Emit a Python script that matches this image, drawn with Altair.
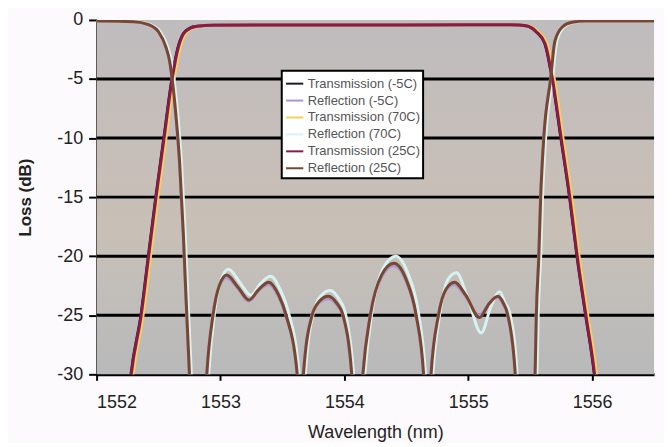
import altair as alt
import pandas as pd

# ---- data ----
series_names = ["Transmission (-5C)", "Reflection (-5C)", "Transmission (70C)",
                "Reflection (70C)", "Transmission (25C)", "Reflection (25C)"]
series_colors = ["#1c1a2a", "#a898d0", "#f0d35a", "#d8f2f2", "#8c1a48", "#7a4630"]

t25_w = [1552.26, 1552.28, 1552.36, 1552.42, 1552.48, 1552.545, 1552.61, 1552.66, 1552.72, 1552.80,
         1552.95, 1553.50, 1554.50, 1555.35, 1555.47, 1555.55, 1555.62, 1555.68, 1555.75, 1555.82,
         1555.88, 1555.95, 1556.02, 1556.04]
t25_v = [-32, -30, -25, -20, -15, -10, -5, -2.3, -0.95, -0.55,
         -0.45, -0.42, -0.42, -0.40, -0.50, -1.0, -2.0, -5, -10, -15,
         -20, -25, -30, -32]

t70_w = [1552.275, 1552.295, 1552.375, 1552.435, 1552.495, 1552.56, 1552.625, 1552.675, 1552.735, 1552.815,
         1552.965, 1553.50, 1554.50, 1555.365, 1555.485, 1555.565, 1555.635, 1555.695, 1555.765, 1555.835,
         1555.895, 1555.965, 1556.035, 1556.055]
t70_v = [-32, -30, -25, -20, -15, -10, -5, -2.3, -0.95, -0.55,
         -0.45, -0.42, -0.42, -0.40, -0.50, -1.0, -2.0, -5, -10, -15,
         -20, -25, -30, -32]

tm5_w = [1552.258, 1552.278, 1552.358, 1552.418, 1552.478, 1552.543, 1552.608, 1552.658, 1552.718, 1552.798,
         1552.948, 1553.50, 1554.50, 1555.348, 1555.468, 1555.548, 1555.618, 1555.678, 1555.748, 1555.818,
         1555.878, 1555.948, 1556.018, 1556.038]
tm5_v = [-32, -30, -25, -20, -15, -10, -5, -2.3, -0.95, -0.55,
         -0.45, -0.42, -0.42, -0.40, -0.50, -1.0, -2.0, -5, -10, -15,
         -20, -25, -30, -32]

r25_w = [1552.00, 1552.30, 1552.42, 1552.50, 1552.56, 1552.59, 1552.61, 1552.64, 1552.67, 1552.70, 1552.72, 1552.75, 1552.77,
         1552.87, 1552.89, 1552.94, 1552.99, 1553.05, 1553.14, 1553.23, 1553.31, 1553.39, 1553.47, 1553.53, 1553.62, 1553.645,
         1553.67, 1553.74, 1553.80, 1553.87, 1553.94, 1553.99, 1554.06, 1554.105,
         1554.15, 1554.21, 1554.30, 1554.40, 1554.50, 1554.58, 1554.64, 1554.67,
         1554.70, 1554.76, 1554.82, 1554.89, 1554.98, 1555.09, 1555.17, 1555.24, 1555.28, 1555.32, 1555.38, 1555.40,
         1555.52, 1555.54, 1555.55, 1555.57, 1555.585, 1555.61, 1555.665, 1555.70, 1555.76, 1555.84, 1555.95, 1556.50]
r25_v = [-0.1, -0.15, -0.4, -1.0, -2.3, -3.5, -5, -8, -12, -18, -23, -30, -34,
         -34, -30, -25, -22.5, -21.6, -22.6, -23.7, -22.8, -22.2, -23.3, -25, -30, -36,
         -30, -25, -23.8, -23.4, -24.0, -25, -30, -38,
         -30, -25, -21.6, -20.6, -22.0, -25, -30, -36,
         -30, -25, -22.8, -22.2, -23.3, -25.2, -24.0, -23.4, -23.9, -25, -30, -34,
         -34, -30, -25, -20, -15, -10, -5, -1.8, -0.6, -0.2, -0.1, -0.1]

r70_w = [1552.00, 1552.315, 1552.435, 1552.515, 1552.575, 1552.605, 1552.625, 1552.655, 1552.685, 1552.715, 1552.735, 1552.765, 1552.785,
         1552.885, 1552.905, 1552.955, 1553.005, 1553.065, 1553.155, 1553.245, 1553.325, 1553.405, 1553.485, 1553.545, 1553.635, 1553.66,
         1553.685, 1553.755, 1553.815, 1553.885, 1553.955, 1554.005, 1554.075, 1554.12,
         1554.165, 1554.225, 1554.315, 1554.415, 1554.515, 1554.595, 1554.655, 1554.685,
         1554.715, 1554.775, 1554.835, 1554.905, 1554.995, 1555.105, 1555.185, 1555.255, 1555.295, 1555.335, 1555.395, 1555.415,
         1555.535, 1555.555, 1555.565, 1555.585, 1555.60, 1555.625, 1555.68, 1555.715, 1555.775, 1555.855, 1555.965, 1556.50]
r70_v = [-0.1, -0.15, -0.4, -1.0, -2.3, -3.5, -5, -8, -12, -18, -23, -30, -34,
         -34, -30, -24.6, -22.0, -21.1, -22.2, -23.3, -22.3, -21.7, -22.9, -24.6, -30, -36,
         -30, -24.6, -23.3, -22.9, -23.6, -24.7, -30, -38,
         -30, -24.6, -21.0, -20.0, -21.5, -24.6, -30, -36,
         -30, -24.6, -22.0, -21.4, -23.5, -26.5, -24.2, -23.0, -23.9, -24.8, -30, -34,
         -34, -30, -25, -20, -15, -10, -5, -1.8, -0.6, -0.2, -0.1, -0.1]

rm5_w = [1552.00, 1552.298, 1552.418, 1552.498, 1552.558, 1552.588, 1552.608, 1552.638, 1552.668, 1552.698, 1552.718, 1552.748, 1552.768,
         1552.868, 1552.888, 1552.938, 1552.988, 1553.048, 1553.138, 1553.228, 1553.308, 1553.388, 1553.468, 1553.528, 1553.618, 1553.643,
         1553.668, 1553.738, 1553.798, 1553.868, 1553.938, 1553.988, 1554.058, 1554.103,
         1554.148, 1554.208, 1554.298, 1554.398, 1554.498, 1554.578, 1554.638, 1554.668,
         1554.698, 1554.758, 1554.818, 1554.888, 1554.978, 1555.088, 1555.168, 1555.238, 1555.278, 1555.318, 1555.378, 1555.398,
         1555.518, 1555.538, 1555.548, 1555.568, 1555.583, 1555.608, 1555.663, 1555.698, 1555.758, 1555.838, 1555.948, 1556.50]
rm5_v = [-0.1, -0.15, -0.4, -1.0, -2.3, -3.5, -5, -8, -12, -18, -23, -30, -34,
         -34, -30, -25, -22.6, -21.8, -22.7, -23.8, -22.9, -22.4, -23.4, -25, -30, -36,
         -30, -25, -23.9, -23.6, -24.1, -25, -30, -38,
         -30, -25, -21.8, -20.8, -22.1, -25, -30, -36,
         -30, -25, -22.9, -22.4, -23.4, -25.0, -24.0, -23.5, -24.0, -25, -30, -34,
         -34, -30, -25, -20, -15, -10, -5, -1.8, -0.6, -0.2, -0.1, -0.1]

grid_values = [-5, -10, -15, -20, -25]
x_ticks = [1552, 1553, 1554, 1555, 1556]
y_ticks = [-30, -25, -20, -15, -10, -5, 0]
x_domain = [1552, 1556.5]
y_domain = [-30, 0]

# ---- build table ----
series_data = [
    (series_names[0], tm5_w, tm5_v),
    (series_names[1], rm5_w, rm5_v),
    (series_names[2], t70_w, t70_v),
    (series_names[3], r70_w, r70_v),
    (series_names[4], t25_w, t25_v),
    (series_names[5], r25_w, r25_v),
]
rows = []
for name, ws, vs in series_data:
    for w, v in zip(ws, vs):
        rows.append({"series": name, "w": w, "v": v})
df = pd.DataFrame(rows)

FONT = "Liberation Sans"

xscale = alt.Scale(domain=x_domain, nice=False, zero=False)
yscale = alt.Scale(domain=y_domain, nice=False, zero=False)

x_axis = alt.Axis(values=x_ticks, format="d", title="Wavelength (nm)", grid=False,
                  domainColor="black", domainWidth=3, tickColor="black", tickWidth=2,
                  tickSize=6, labelFontSize=18, labelPadding=13, labelColor="#222",
                  labelFont=FONT, titleFont=FONT, titleFontSize=18, titleFontWeight="normal",
                  titleColor="#222", titlePadding=12)
y_axis = alt.Axis(values=y_ticks, title="Loss (dB)", grid=False,
                  labelExpr="'' + datum.value",
                  domainColor="black", domainWidth=2, tickColor="black", tickWidth=2,
                  tickSize=8, labelFontSize=18, labelPadding=6, labelColor="#222",
                  labelFont=FONT, titleFont=FONT, titleFontSize=17, titleFontWeight="bold",
                  titleColor="#222", titlePadding=22)

bg_df = pd.DataFrame({"x0": [x_domain[0]], "x1": [x_domain[1]], "y0": [y_domain[0]], "y1": [y_domain[1]]})
background = alt.Chart(bg_df).mark_rect(
    color=alt.LinearGradient(
        gradient="linear", x1=0, x2=0, y1=0, y2=1,
        stops=[alt.GradientStop(color="#bfbcbe", offset=0),
               alt.GradientStop(color="#c6beb9", offset=0.35),
               alt.GradientStop(color="#c8c0b6", offset=0.6),
               alt.GradientStop(color="#c0bdba", offset=0.8),
               alt.GradientStop(color="#b9b9ba", offset=1)])
).encode(
    x=alt.X("x0:Q", scale=xscale, axis=x_axis), x2="x1:Q",
    y=alt.Y("y0:Q", scale=yscale, axis=y_axis), y2="y1:Q",
)

grid_df = pd.DataFrame({"g": grid_values})
grid = alt.Chart(grid_df).mark_rule(color="black", strokeWidth=3).encode(
    y=alt.Y("g:Q", scale=yscale)
)

color_enc = alt.Color(
    "series:N",
    scale=alt.Scale(domain=series_names, range=series_colors),
    legend=alt.Legend(orient="none", legendX=186, legendY=51, title=None,
                      symbolType="stroke", symbolSize=300, symbolStrokeWidth=2,
                      labelFont=FONT, labelFontSize=13, labelColor="#555",
                      fillColor="white", strokeColor="black", padding=3,
                      rowPadding=0, labelOffset=3),
)

lines = []
for name in series_names:
    lines.append(
        alt.Chart(df).transform_filter(alt.datum.series == name)
        .mark_line(strokeWidth=3, interpolate="monotone", clip=True)
        .encode(x=alt.X("w:Q", scale=xscale), y=alt.Y("v:Q", scale=yscale),
                color=color_enc, order="w:Q")
    )

chart = alt.layer(background, grid, *lines).properties(
    width=560, height=356,
    autosize=alt.AutoSizeParams(type="none"),
    padding={"left": 89, "top": 11, "right": 10, "bottom": 68},
    background="#fcfafc",
).configure_view(stroke="transparent").configure_legend(strokeWidth=2, cornerRadius=0)

chart.save("out.html", embed_options={"renderer": "svg", "actions": False})
